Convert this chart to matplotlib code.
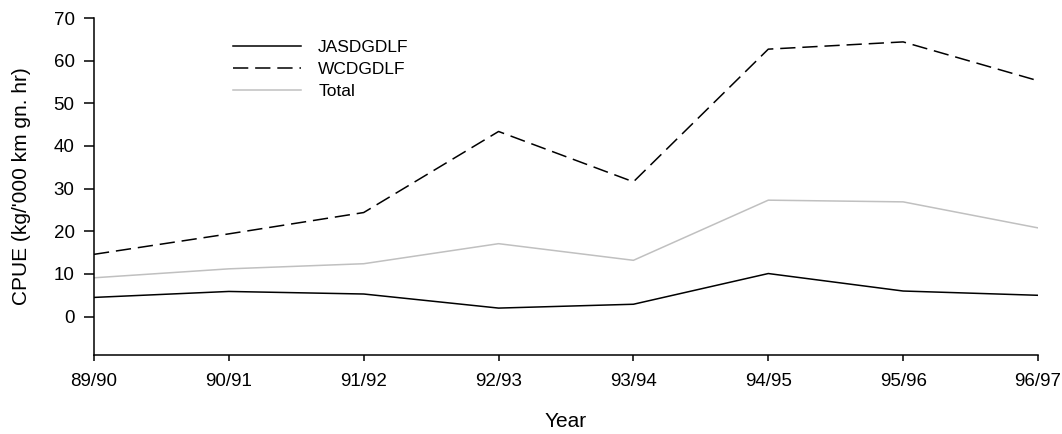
import matplotlib

matplotlib.use("Agg")
import matplotlib.pyplot as plt

years = ["89/90", "90/91", "91/92", "92/93", "93/94", "94/95", "95/96", "96/97"]
jasdgdlf = [4.5, 5.9, 5.3, 2.0, 2.9, 10.1, 6.0, 5.0]
wcdgdlf = [14.6, 19.4, 24.4, 43.4, 31.6, 62.7, 64.4, 55.3]
total = [9.1, 11.2, 12.4, 17.1, 13.2, 27.3, 26.9, 20.8]
yticks = [0, 10, 20, 30, 40, 50, 60, 70]

plt.rcParams["font.family"] = ["Liberation Sans", "DejaVu Sans"]

fig = plt.figure(figsize=(10.62, 4.34), dpi=100)
ax = fig.add_axes([0.0885, 0.182, 0.8889, 0.7765])

x = range(len(years))
ax.plot(x, jasdgdlf, color="black", lw=1.1, label="JASDGDLF")
ax.plot(x, wcdgdlf, color="black", lw=1.1, linestyle=(0, (10, 4.5)), label="WCDGDLF")
ax.plot(x, total, color="#c0c0c0", lw=1.1, label="Total")

ax.set_xlim(0, len(years) - 1)
ax.set_ylim(-9, 70)
ax.set_xticks(list(x))
ax.set_xticklabels(years)
ax.set_yticks(yticks)

for side in ("top", "right"):
    ax.spines[side].set_visible(False)
for side in ("left", "bottom"):
    ax.spines[side].set_linewidth(1.1)

ax.tick_params(axis="y", length=7, width=1.1, pad=7, labelsize=13.5)
ax.tick_params(axis="x", length=4, width=1.1, pad=9, labelsize=13.5)

ax.set_xlabel("Year", fontsize=15, labelpad=16)
ax.set_ylabel("CPUE (kg/'000 km gn. hr)", fontsize=15, labelpad=16)

ax.legend(
    loc="upper left",
    bbox_to_anchor=(0.14, 0.955),
    frameon=False,
    fontsize=12.5,
    handlelength=3.9,
    handletextpad=1.0,
    labelspacing=0.38,
    borderaxespad=0,
)

fig.savefig("out.png", dpi=100)
